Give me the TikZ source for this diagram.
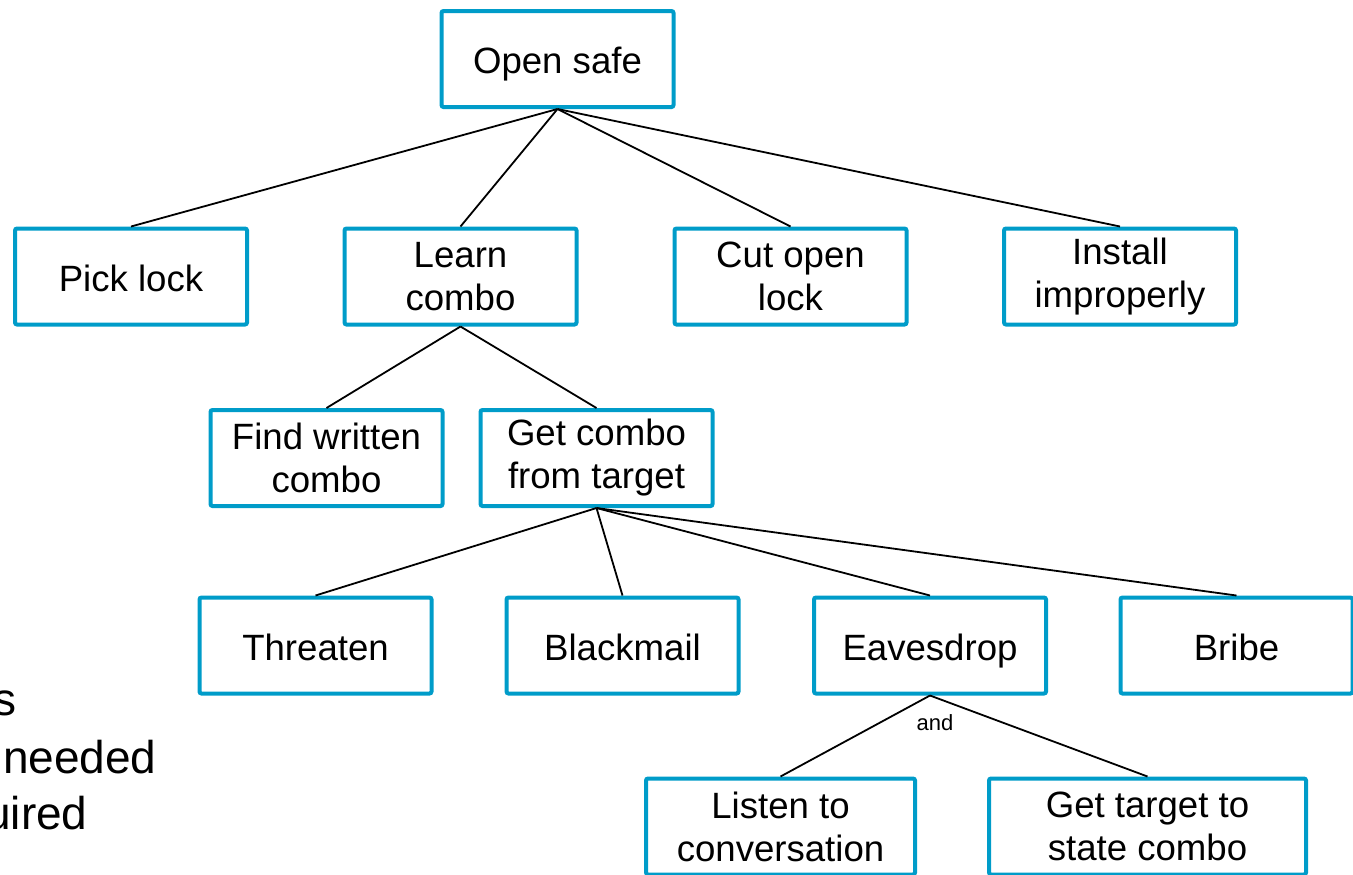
\documentclass[tikz,border=0pt]{standalone}
\usepackage{fontspec}
\setmainfont{Liberation Sans}
\definecolor{boxblue}{RGB}{0,156,201}
\tikzset{
  goal/.style={draw=boxblue, line width=2pt, rounded corners=1pt, fill=white,
    minimum width=116pt, minimum height=48pt, inner sep=0pt, align=center,
    font=\fontsize{18.3pt}{21.5pt}\selectfont},
  oneline/.style={goal, text height=14.5pt, text depth=0pt},
  link/.style={line width=0.9pt, black},
  sidetext/.style={inner sep=0pt, font=\fontsize{23pt}{27pt}\selectfont},
}
\begin{document}
\begin{tikzpicture}[x=0.5pt, y=-0.5pt]
\useasboundingbox (0,0) rectangle (1353,874);

% goals
\node[oneline] (safe) at (557.5,59) {Open safe};
\node[oneline] (pick) at (131,276.5) {Pick lock};
\node[goal] (learn) at (460.5,276.5) {Learn\\combo};
\node[goal] (cut) at (790.5,276.5) {Cut open\\lock};
\node[goal] (install) at (1120,276.5) {Install\\improperly};
\node[goal] (find) at (326.5,458) {Find written\\combo};
\node[goal] (getcombo) at (596.5,458) {Get combo\\from target};
\node[oneline] (threaten) at (315.5,645.5) {Threaten};
\node[oneline] (blackmail) at (622.5,645.5) {Blackmail};
\node[oneline] (eaves) at (930,645.5) {Eavesdrop};
\node[oneline] (bribe) at (1236.5,645.5) {Bribe};
\node[goal, minimum width=134.5pt] (listen) at (780.5,826.5) {Listen to\\conversation};
\node[goal, minimum width=158.5pt] (target) at (1147.5,826.5) {Get target to\\state combo};

% tree links
\foreach \c in {pick,learn,cut,install} \draw[link] (safe.south) -- (\c.north);
\foreach \c in {find,getcombo} \draw[link] (learn.south) -- (\c.north);
\foreach \c in {threaten,blackmail,eaves,bribe} \draw[link] (getcombo.south) -- (\c.north);
\foreach \c in {listen,target} \draw[link] (eaves.south) -- (\c.north);
\node[inner sep=0pt, anchor=base, font=\fontsize{11pt}{13pt}\selectfont] (andlbl) at (935,730) {and};

% side legend text
\node[sidetext, anchor=base east] (leg1) at (17,715) {s};
\node[sidetext, anchor=base east] (leg2) at (157,773) {needed};
\node[sidetext, anchor=base east] (leg3) at (88,829) {uired};
\end{tikzpicture}
\end{document}
